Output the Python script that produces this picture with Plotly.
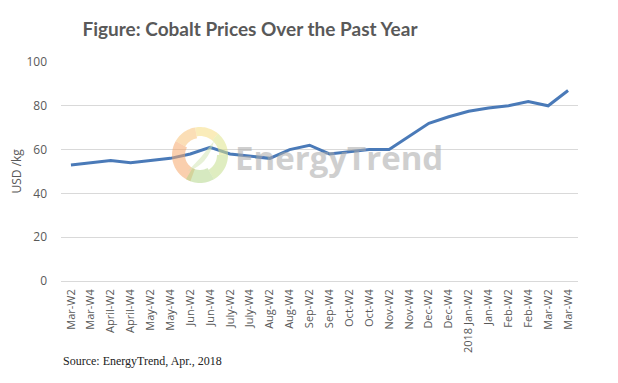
import math
import plotly.graph_objects as go

categories = ["Mar-W2", "Mar-W4", "April-W2", "April-W4", "May-W2", "May-W4",
              "Jun-W2", "Jun-W4", "July-W2", "July-W4", "Aug-W2", "Aug-W4",
              "Sep-W2", "Sep-W4", "Oct-W2", "Oct-W4", "Nov-W2", "Nov-W4",
              "Dec-W2", "Dec-W4", "2018 Jan-W2", "Jan-W4", "Feb-W2", "Feb-W4",
              "Mar-W2", "Mar-W4"]
prices = [53, 54, 55, 54, 55, 56, 58, 61, 58, 57, 56, 60, 62, 58, 59, 60,
          60, 66, 72, 75, 77.5, 79, 80, 82, 80, 87]
y_ticks = [0, 20, 40, 60, 80, 100]

x_idx = list(range(len(categories)))

fig = go.Figure()
fig.add_trace(go.Scatter(
    x=x_idx, y=prices, mode="lines",
    line=dict(color="#4a7ab8", width=3),
    hoverinfo="skip", showlegend=False,
))

GRAY = "#595959"
OFF = 8  # page body margin offset
fig.update_layout(
    width=618, height=383,
    margin=dict(l=61 - OFF, r=40 + OFF, t=62 - OFF, b=102 + OFF),
    paper_bgcolor="white", plot_bgcolor="white",
    font=dict(family="Open Sans, sans-serif", color=GRAY, size=11),
    xaxis=dict(
        range=[-0.5, len(categories) - 0.5],
        tickmode="array", tickvals=x_idx, ticktext=categories,
        tickangle=-90, showgrid=False, zeroline=False, showline=False,
        ticks="", tickfont=dict(size=11, color=GRAY), ticklabelstandoff=5,
    ),
    yaxis=dict(
        range=[0, 100], tickmode="array", tickvals=y_ticks,
        showgrid=True, gridcolor="#d9d9d9", gridwidth=1,
        zeroline=True, zerolinecolor="#d9d9d9", zerolinewidth=1,
        showline=False, ticks="", tickfont=dict(size=12, color=GRAY),
        ticklabelstandoff=13,
    ),
    title=dict(
        text="<b>Figure: Cobalt Prices Over the Past Year</b>",
        font=dict(family="Lato, sans-serif", size=19, color=GRAY),
        xref="container", yref="container",
        x=(250 - OFF) / 618, xanchor="center", y=1 - (29 - OFF) / 383,
        yanchor="middle",
    ),
    showlegend=False,
)

annotations = [
    dict(text="USD /kg", xref="paper", yref="paper",
         x=(16 - 61) / 517, y=0.5, textangle=-90, showarrow=False,
         xanchor="center", yanchor="middle",
         font=dict(size=12, color=GRAY, family="Open Sans, sans-serif")),
    dict(text="Source: EnergyTrend, Apr., 2018", xref="paper", yref="paper",
         x=0, y=-(361 - 281) / 219, xanchor="left", yanchor="middle",
         showarrow=False,
         font=dict(family="Liberation Serif, serif", size=12, color="#222222")),
    dict(text="<b>EnergyTrend</b>", xref="paper", yref="paper",
         x=(339 - 61) / 517, y=(281 - 157) / 219, xanchor="center",
         yanchor="middle", showarrow=False, opacity=0.55,
         font=dict(family="Open Sans, sans-serif", size=33, color="#a8a8a8")),
]
fig.update_layout(annotations=annotations)


def ring_segment(a0, a1, r_out, r_in, n=16):
    pts = []
    for i in range(n + 1):
        a = math.radians(a0 + (a1 - a0) * i / n)
        pts.append((r_out * math.cos(a), r_out * math.sin(a)))
    for i in range(n + 1):
        a = math.radians(a1 - (a1 - a0) * i / n)
        pts.append((r_in * math.cos(a), r_in * math.sin(a)))
    return "M " + " L ".join(f"{x:.2f},{y:.2f}" for x, y in pts) + " Z"


logo_x = (200 - 61) / 517
logo_y = (281 - 155) / 219
segments = [
    (150, 250, 28, 15, "#f6a86c"),
    (100, 150, 28, 17, "#f7c27a"),
    (50, 100, 28, 19, "#f5dc82"),
    (0, 50, 28, 19, "#dfe48a"),
    (-60, 0, 28, 17, "#c5de8c"),
    (-120, -60, 28, 15, "#b5d78c"),
]
shapes = []
for a0, a1, ro, ri, col in segments:
    shapes.append(dict(
        type="path", xref="paper", yref="paper",
        xsizemode="pixel", ysizemode="pixel",
        xanchor=logo_x, yanchor=logo_y,
        path=ring_segment(a0, a1, ro, ri),
        fillcolor=col, line=dict(width=0), opacity=0.55, layer="above",
    ))
# inner leaf
shapes.append(dict(
    type="path", xref="paper", yref="paper",
    xsizemode="pixel", ysizemode="pixel",
    xanchor=logo_x, yanchor=logo_y,
    path="M -12,-16 Q 2,-2 14,14 Q 8,-10 -12,-16 Z",
    fillcolor="#cfe3b0", line=dict(width=0), opacity=0.5, layer="above",
))
fig.update_layout(shapes=shapes)

fig.write_html("out.html")
